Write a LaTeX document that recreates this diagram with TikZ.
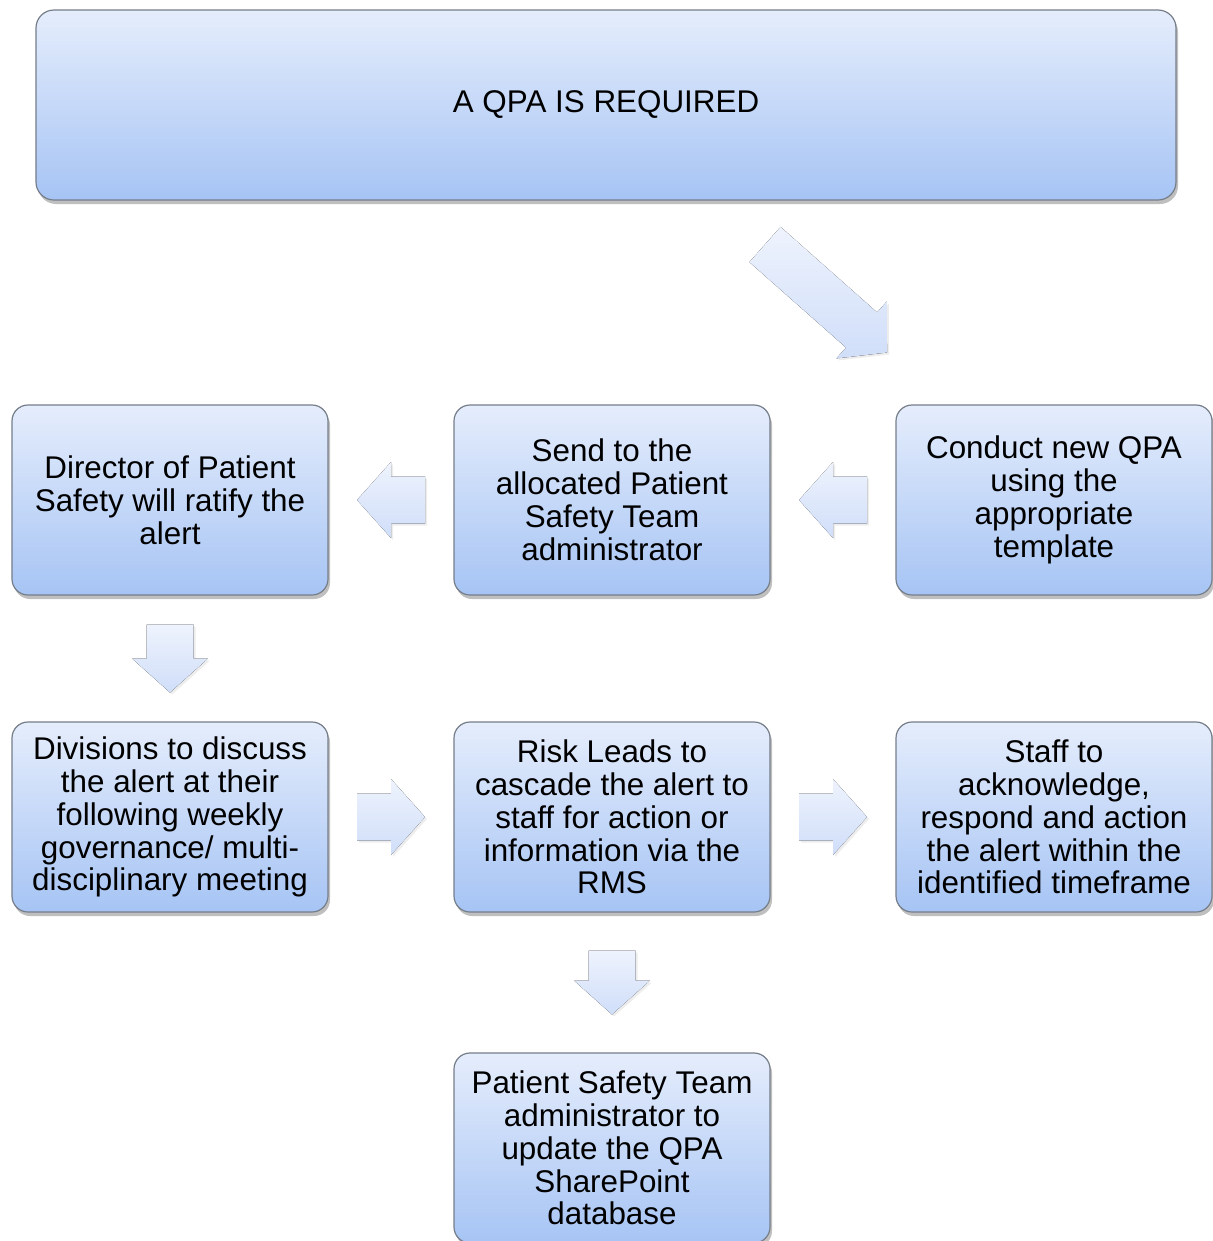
\documentclass[tikz,border=0pt]{standalone}
\usepackage{fontspec}
\setmainfont{Liberation Sans}
\usetikzlibrary{positioning,calc,shadows}

\definecolor{boxtop}{RGB}{229,237,252}
\definecolor{boxbot}{RGB}{166,196,244}
\definecolor{arrtop}{RGB}{238,243,253}
\definecolor{arrbot}{RGB}{208,222,249}
\definecolor{boxline}{RGB}{118,126,138}

\tikzset{
  box/.style={draw=boxline, line width=1.2bp, rounded corners=16bp,
    minimum width=316bp, minimum height=190bp, inner sep=0pt, align=center,
    top color=boxtop, bottom color=boxbot,
    drop shadow={shadow xshift=2bp, shadow yshift=-4bp, fill=black, opacity=0.25},
    font=\fontsize{31.5}{33}\selectfont},
  blockarr/.pic={
    \fill[top color=arrtop, bottom color=arrbot,
      drop shadow={shadow xshift=2bp, shadow yshift=-2bp, fill=black, opacity=0.07}]
      (-#1/2,-23.5) -- (#1/2-34,-23.5) -- (#1/2-34,-38) -- (#1/2,0)
      -- (#1/2-34,38) -- (#1/2-34,23.5) -- (-#1/2,23.5) -- cycle;
  }
}

\begin{document}
\begin{tikzpicture}[x=1bp,y=1bp,node distance=317bp and 442bp,on grid]
  \useasboundingbox (0,0) rectangle (1213,-1241);

  \node[box,minimum width=1140bp,rounded corners=18bp] (qpa) at (606,-105) {A QPA IS REQUIRED};

  \node[box] (director) at (170,-500) {Director of Patient\\Safety will ratify the\\alert};
  \node[box] (send) [right=of director] {Send to the\\allocated Patient\\Safety Team\\administrator};
  \node[box] (conduct) [right=of send] {Conduct new QPA\\using the\\appropriate\\template};
  \node[box] (divisions) [below=of director] {Divisions to discuss\\the alert at their\\following weekly\\governance/ multi-\\disciplinary meeting};
  \node[box] (risk) [right=of divisions] {Risk Leads to\\cascade the alert to\\staff for action or\\information via the\\RMS};
  \node[box] (staff) [right=of risk] {Staff to\\acknowledge,\\respond and action\\the alert within the\\identified timeframe};
  \node[box] (update) [below=331bp of risk] {Patient Safety Team\\administrator to\\update the QPA\\SharePoint\\database};

  % block arrows between the boxes
  \pic[rotate=-41.5] at ($(qpa.south)!0.5!(conduct.north)+(-4,4)$) {blockarr=163};
  \pic[rotate=180] at ($(conduct.west)!0.5!(send.east)$) {blockarr=68};
  \pic[rotate=180] at ($(send.west)!0.5!(director.east)$) {blockarr=68};
  \pic[rotate=-90] at ($(director.south)!0.5!(divisions.north)$) {blockarr=68};
  \pic at ($(divisions.east)!0.5!(risk.west)$) {blockarr=68};
  \pic at ($(risk.east)!0.5!(staff.west)$) {blockarr=68};
  \pic[rotate=-90] at ($(risk.south)!0.5!(update.north)$) {blockarr=64};
\end{tikzpicture}
\end{document}
